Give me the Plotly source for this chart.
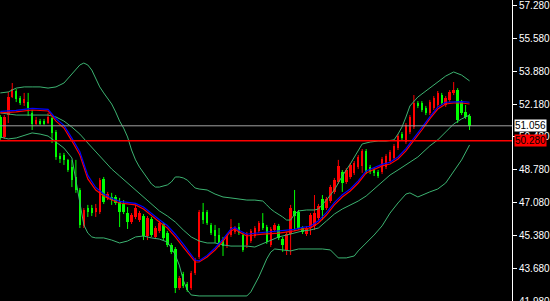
import plotly.graph_objects as go

# ---------------- data ----------------
OPEN = [51.51,50.48,51.61,52.54,52.85,52.49,52.23,52.28,51.72,51.15,
        51.30,51.30,51.20,51.46,50.74,49.50,49.55,49.30,48.93,48.42,
        47.75,45.89,46.82,46.82,46.62,46.62,48.32,47.34,47.39,47.39,
        47.13,47.03,46.56,46.10,46.36,46.20,46.41,45.38,46.25,45.33,
        45.64,46.00,45.53,44.92,44.71,42.70,43.42,42.91,42.70,43.47,
        44.30,46.62,46.62,45.95,45.69,45.43,45.17,44.86,45.43,45.59,
        45.84,45.43,44.92,45.12,45.38,45.64,46.05,45.84,44.92,45.69,
        45.89,45.22,44.66,45.48,46.67,46.62,45.79,45.48,45.79,45.89,
        46.31,47.29,46.82,47.18,47.65,48.16,48.68,48.16,48.42,48.63,
        48.93,48.99,49.76,48.93,48.78,48.68,48.68,48.93,49.24,49.40,
        49.91,50.63,50.22,50.74,50.99,52.23,52.23,51.97,51.72,51.97,
        52.13,52.64,52.13,52.39,52.75,52.90,52.28,51.77,51.56]
HIGH = [51.61,51.61,52.80,53.26,52.95,52.59,52.75,52.75,51.87,51.51,
        51.41,51.41,51.72,51.51,50.84,49.66,49.66,49.35,49.30,49.30,
        47.85,46.82,46.98,46.98,47.03,48.37,48.42,47.65,47.60,47.49,
        47.34,47.23,46.87,46.56,46.98,46.67,46.51,46.41,46.36,45.89,
        46.15,46.10,45.64,45.02,44.81,43.32,43.53,43.01,43.58,44.25,
        46.72,47.08,46.72,46.05,45.95,45.79,45.33,45.48,46.25,45.89,
        46.05,45.53,45.59,45.74,45.89,46.15,46.56,45.95,45.84,46.05,
        46.00,45.33,45.59,46.98,47.75,46.72,45.89,45.89,46.56,47.49,
        47.03,47.49,47.39,48.01,48.37,49.30,48.78,48.88,49.14,49.24,
        49.55,49.86,49.86,49.04,48.88,48.78,49.45,49.60,49.81,50.12,
        50.63,50.74,51.20,51.61,52.64,52.33,52.33,52.08,52.39,52.59,
        52.85,52.75,52.59,52.90,53.31,53.00,52.39,52.13,51.67]
LOW = [50.33,50.38,51.20,52.49,52.28,52.13,52.08,51.56,50.84,51.10,
       51.10,51.10,51.15,50.17,49.30,49.14,49.04,48.68,47.90,47.60,
       45.79,45.79,46.36,46.41,46.36,46.51,47.03,47.23,46.98,46.98,
       45.84,46.51,45.74,46.00,46.25,46.10,45.17,45.17,45.33,45.22,
       45.53,45.17,44.81,44.45,42.44,42.60,42.70,42.50,42.60,43.37,
       44.19,46.00,45.95,45.43,45.02,44.81,44.35,44.76,45.33,45.48,
       45.43,44.56,44.76,45.02,45.28,45.53,45.69,44.97,44.81,45.59,
       45.17,44.56,44.40,44.40,45.64,45.69,45.48,45.38,45.43,45.69,
       46.20,46.20,46.72,47.08,47.54,48.06,47.65,48.06,48.32,48.52,
       48.83,48.63,48.57,48.57,48.47,48.37,48.57,48.83,49.14,49.30,
       49.81,50.33,50.12,50.63,50.89,51.97,51.77,51.61,51.61,51.87,
       52.03,52.13,52.03,52.28,52.64,51.20,51.61,51.41,50.84]
CLOSE = [50.43,51.51,52.54,52.95,52.44,52.23,52.44,51.97,51.15,51.36,
         51.20,51.20,51.51,50.69,49.45,49.35,49.30,48.78,48.26,47.75,
         45.95,46.72,46.62,46.56,46.82,48.26,47.13,47.54,47.23,47.08,
         46.62,46.62,46.10,46.46,46.82,46.56,45.38,46.31,45.43,45.79,
         46.05,45.28,44.92,44.56,42.70,43.21,42.80,42.60,43.47,44.14,
         46.62,46.20,46.05,45.53,45.38,45.02,44.86,45.38,45.84,45.79,
         45.53,44.66,45.48,45.64,45.79,46.05,45.79,45.07,45.74,45.95,
         45.28,44.92,45.48,46.82,46.41,45.79,45.59,45.79,46.46,46.56,
         46.92,46.72,47.29,47.90,48.26,48.99,48.11,48.78,49.04,49.14,
         49.45,49.76,48.68,48.68,48.63,48.47,49.35,49.50,49.71,50.02,
         50.53,50.43,51.10,51.51,52.23,52.08,51.87,51.72,52.28,52.49,
         52.75,52.23,52.49,52.80,52.90,51.36,51.72,51.51,51.06]

MA_IDX = [0,4,8,12,14,16,18,20,22,24,26,28,30,34,36,38,40,42,44,46,48,49,50,
          52,54,56,58,59,60,62,64,66,70,74,76,78,80,82,84,86,88,90,92,94,96,
          98,100,102,104,106,108,110,112,114,116,118]
MA_RED = [51.72,51.77,51.87,51.82,51.30,50.94,50.27,49.55,48.32,47.75,47.44,
          47.23,47.08,46.98,46.77,46.41,46.10,45.79,45.33,44.81,44.30,44.04,
          44.04,44.30,44.66,45.12,45.64,45.74,45.59,45.38,45.43,45.48,45.53,
          45.64,45.74,45.79,46.05,46.46,46.98,47.39,47.70,48.11,48.63,48.83,
          48.99,49.09,49.35,49.76,50.27,50.84,51.41,51.92,52.18,52.23,52.23,
          52.18]
MA_BLUE = [51.80,51.85,51.95,51.90,51.42,51.08,50.42,49.72,48.50,47.88,47.54,
           47.32,47.16,47.06,46.87,46.53,46.22,45.92,45.47,44.96,44.43,44.14,
           44.10,44.38,44.76,45.22,45.74,45.82,45.68,45.47,45.52,45.56,45.61,
           45.72,45.82,45.88,46.16,46.58,47.10,47.50,47.80,48.22,48.73,48.92,
           49.07,49.18,49.45,49.88,50.40,50.96,51.52,52.02,52.27,52.30,52.30,
           52.27]

UP_IDX = [0,2,4,6,8,10,12,14,16,18,20,21,22,23,24,25,26,27,28,29,30,31,32,33,
          34,35,36,37,38,39,40,42,43,44,45,46,47,48,49,50,52,54,56,58,60,62,64,
          66,67,68,69,70,71,72,73,74,75,77,79,80,82,84,86,88,90,91,93,95,97,99,
          100,101,102,103,105,107,110,112,114,116,118]
UP_BAND = [52.75,52.80,53.00,53.06,53.06,53.06,53.00,53.06,53.26,53.73,54.19,
           54.29,54.19,53.93,53.47,53.06,52.75,52.44,52.18,51.77,51.30,50.94,
           50.48,49.81,49.30,48.93,48.63,48.37,48.06,47.90,47.90,48.01,48.16,
           48.42,48.42,48.37,48.26,48.06,47.85,47.80,47.75,47.54,47.39,47.34,
           47.29,47.23,47.23,47.18,46.98,46.77,46.62,46.51,46.36,46.20,46.20,
           46.51,46.67,46.72,46.72,46.77,47.23,47.75,48.47,49.09,49.81,50.12,
           50.22,50.27,50.27,50.33,50.63,50.99,51.51,52.08,52.54,52.85,53.31,
           53.62,53.83,53.67,53.37]

MID_IDX = [0,2,4,8,12,14,16,18,20,22,24,26,28,30,32,34,36,38,40,42,44,46,48,50,
           52,54,56,58,60,62,64,66,68,70,72,74,76,78,80,82,84,86,88,90,92,94,96,
           98,100,102,104,105,108,110,112,114,116,118]
MID_BAND = [51.72,51.66,51.61,51.61,51.61,51.51,51.30,50.99,50.63,50.17,49.71,
            49.24,48.83,48.47,48.11,47.75,47.39,47.03,46.67,46.41,46.10,45.69,
            45.33,45.12,45.02,45.02,44.92,44.86,44.86,44.86,44.81,44.97,45.17,
            45.33,45.43,45.53,45.64,45.69,45.79,46.15,46.51,46.77,46.98,47.18,
            47.44,47.80,48.16,48.52,48.78,49.04,49.30,49.45,50.02,50.33,50.74,
            51.15,51.41,51.61]

LOW_IDX = [0,2,4,6,8,10,12,14,16,18,19,20,21,22,23,24,26,28,30,32,34,36,38,40,
           42,43,44,45,46,47,48,50,52,54,56,58,60,62,63,64,65,66,67,68,69,71,73,
           75,77,79,81,83,84,85,87,89,90,92,94,96,98,100,102,103,105,108,110,112,
           114,116,118]
LOW_BAND = [50.48,50.38,50.43,50.58,50.69,50.63,50.53,50.22,49.91,49.40,48.26,
            46.98,45.95,45.53,45.33,45.28,45.28,45.17,45.02,45.12,45.33,45.38,
            45.28,45.22,45.07,44.76,44.40,43.88,43.11,42.60,42.34,42.29,42.29,
            42.29,42.29,42.29,42.29,42.29,42.50,42.85,43.27,43.73,44.20,44.55,
            44.71,44.66,44.61,44.71,44.71,44.71,44.71,44.66,44.45,44.25,44.25,
            44.35,44.61,45.02,45.43,45.90,46.56,47.08,47.54,47.60,47.39,47.65,
            47.80,48.11,48.68,49.30,50.07]

LAST_PRICE = 51.056
REF_PRICE = 50.280
TICKS = [43.68, 45.38, 47.08, 48.78, 50.48, 52.18, 53.88, 55.58, 57.28]
BOTTOM_TICK = 41.98
Y_RANGE = [42.03, 57.538]

# ---------------- figure ----------------
UP_C = "#ff0000"
DN_C = "#00ff00"
BAND_C = "rgb(60,179,113)"

fig = go.Figure()

n = len(CLOSE)
idx = list(range(n))

for up, col in ((True, UP_C), (False, DN_C)):
    xs, base, hgt, wx, wy = [], [], [], [], []
    for i in idx:
        if (CLOSE[i] >= OPEN[i]) != up:
            continue
        lo = min(OPEN[i], CLOSE[i]); hi = max(OPEN[i], CLOSE[i])
        xs.append(i); base.append(lo); hgt.append(max(hi - lo, 0.04))
        wx += [i, i, None]; wy += [LOW[i], HIGH[i], None]
    fig.add_trace(go.Scatter(x=wx, y=wy, mode="lines",
                             line=dict(color=col, width=1), hoverinfo="skip"))
    fig.add_trace(go.Bar(x=xs, y=hgt, base=base, width=0.62,
                         marker=dict(color=col, line=dict(width=0)),
                         hoverinfo="skip"))

for xi, yv in ((UP_IDX, UP_BAND), (MID_IDX, MID_BAND), (LOW_IDX, LOW_BAND)):
    fig.add_trace(go.Scatter(x=xi, y=yv, mode="lines",
                             line=dict(color=BAND_C, width=1)))

fig.add_trace(go.Scatter(x=MA_IDX, y=MA_RED, mode="lines",
                         line=dict(color="#ff0000", width=1.2)))
fig.add_trace(go.Scatter(x=MA_IDX, y=MA_BLUE, mode="lines",
                         line=dict(color="#0000ff", width=1.2)))

fig.add_hline(y=LAST_PRICE, line=dict(color="#a0a0a0", width=1))
fig.add_hline(y=REF_PRICE, line=dict(color="#ff0000", width=1.5))

fig.add_annotation(x=1, xref="paper", y=LAST_PRICE, yref="y", xanchor="left",
                   xshift=2, text=f"{LAST_PRICE:.3f}", showarrow=False,
                   bgcolor="#ffffff", borderpad=0,
                   font=dict(family="Liberation Sans", size=10, color="#000000"))
fig.add_annotation(x=1, xref="paper", y=REF_PRICE, yref="y", xanchor="left",
                   xshift=2, text=f"{REF_PRICE:.3f}", showarrow=False,
                   bgcolor="#ff0000", borderpad=0,
                   font=dict(family="Liberation Sans", size=10, color="#000000"))
bottom_frac = (BOTTOM_TICK - Y_RANGE[0]) / (Y_RANGE[1] - Y_RANGE[0])
fig.add_annotation(x=1, xref="paper", y=bottom_frac, yref="paper", xanchor="left",
                   yanchor="middle", xshift=5, text=f"{BOTTOM_TICK:.3f}",
                   showarrow=False,
                   font=dict(family="Liberation Sans", size=10, color="#ffffff"))

fig.update_layout(
    width=550, height=301,
    margin=dict(l=0, r=35, t=0, b=0),
    paper_bgcolor="#000000", plot_bgcolor="#000000",
    showlegend=False, barmode="overlay", bargap=0,
    xaxis=dict(range=[-0.08, 128.67], visible=False, fixedrange=True),
    yaxis=dict(range=Y_RANGE, side="right", tickvals=TICKS, tickformat=".3f",
               ticks="outside", ticklen=4, tickcolor="#ffffff",
               ticklabeloverflow="allow",
               showline=True, linecolor="#ffffff", linewidth=1,
               showgrid=False, zeroline=False,
               tickfont=dict(family="Liberation Sans", size=10, color="#ffffff")),
)

fig.write_html("out.html")
